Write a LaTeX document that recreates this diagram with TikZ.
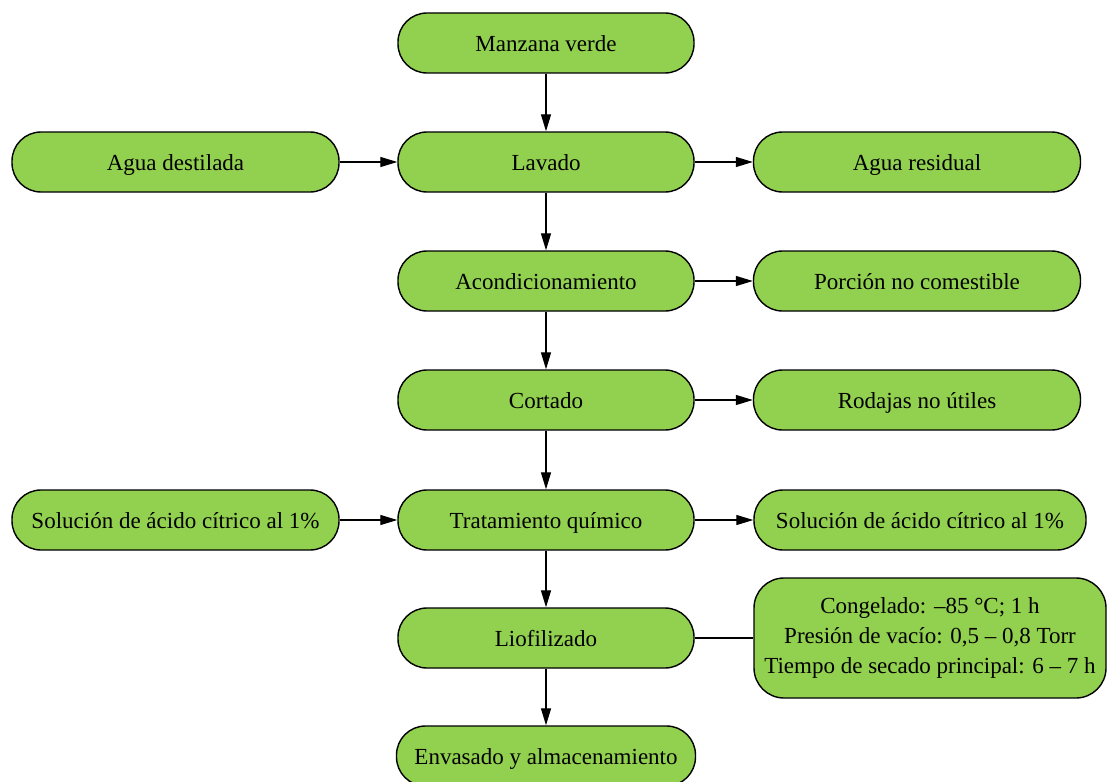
\documentclass[tikz,border=0pt]{standalone}
\usepackage{fontspec}
\setmainfont{Liberation Serif}
\usetikzlibrary{arrows.meta}
\definecolor{boxgreen}{RGB}{146,208,80}
\begin{document}
\begin{tikzpicture}[x=0.5pt,y=-0.5pt,
  stage/.style={draw=black, line width=0.7pt, fill=boxgreen, rounded corners=14.5pt,
    minimum height=30pt, inner sep=0pt, align=center,
    font=\fontsize{11.5}{15}\selectfont},
  oneline/.style={stage, text height=8.5pt, text depth=0pt},
  mainbox/.style={oneline, minimum width=148pt},
  sidebox/.style={oneline, minimum width=163.5pt},
  flow/.style={-{Triangle[length=8.5pt,width=5pt]}, line width=0.65pt},
  link/.style={line width=0.65pt}
]
\useasboundingbox (0,0) rectangle (1107,781);
\clip (0,0) rectangle (1107,781);

% main process column
\node[mainbox] (manzana) at (546,43)  {Manzana verde};
\node[mainbox] (lavado)  at (546,162) {Lavado};
\node[mainbox] (acond)   at (546,281) {Acondicionamiento};
\node[mainbox] (cortado) at (546,400) {Cortado};
\node[mainbox] (trat)    at (546,520) {Tratamiento químico};
\node[mainbox] (liof)    at (546,638) {Liofilizado};
\node[mainbox, minimum width=149.5pt] (envas) at (546,756) {Envasado y almacenamiento};

% inputs
\node[sidebox] (agua)   at (175.5,162) {Agua destilada};
\node[sidebox] (solin)  at (175.5,520) {Solución de ácido cítrico al 1\%};

% outputs
\node[sidebox] (aguares) at (917,162) {Agua residual};
\node[sidebox] (porcion) at (917,281) {Porción no comestible};
\node[sidebox] (rodajas) at (917,400) {Rodajas no útiles};
\node[oneline, minimum width=166pt] (solout) at (920,520) {Solución de ácido cítrico al 1\%};

% freeze-drying conditions
\node[stage, rounded corners=15pt, minimum width=176pt, minimum height=60pt] (cond) at (930,638)
  {Congelado: –85 °C; 1 h\\Presión de vacío: 0,5 – 0,8 Torr\\Tiempo de secado principal: 6 – 7 h};

% main flow
\draw[flow] (manzana) -- (lavado);
\draw[flow] (lavado)  -- (acond);
\draw[flow] (acond)   -- (cortado);
\draw[flow] (cortado) -- (trat);
\draw[flow] (trat)    -- (liof);
\draw[flow] (liof)    -- (envas);

% side flows
\draw[flow] (agua)    -- (lavado);
\draw[flow] (solin)   -- (trat);
\draw[flow] (lavado)  -- (aguares);
\draw[flow] (acond)   -- (porcion);
\draw[flow] (cortado) -- (rodajas);
\draw[flow] (trat)    -- (solout);
\draw[link] (liof)    -- (cond);
\end{tikzpicture}
\end{document}
